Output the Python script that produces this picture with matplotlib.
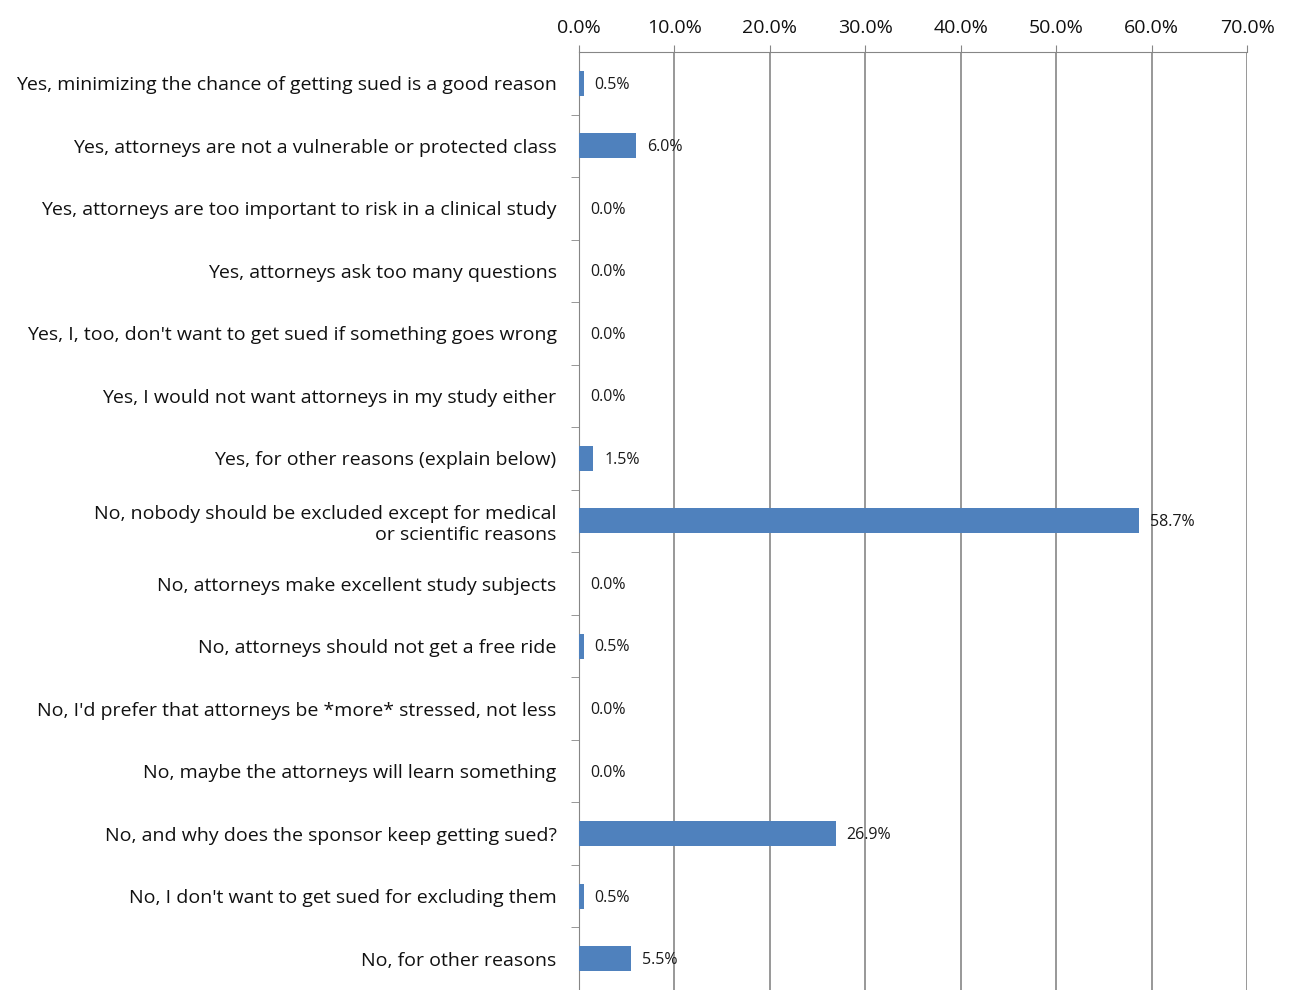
import matplotlib.pyplot as plt
from matplotlib.ticker import FuncFormatter

# survey answers, top to bottom
answers = [
    "Yes, minimizing the chance of getting sued is a good reason",
    "Yes, attorneys are not a vulnerable or protected class",
    "Yes, attorneys are too important to risk in a clinical study",
    "Yes, attorneys ask too many questions",
    "Yes, I, too, don't want to get sued if something goes wrong",
    "Yes, I would not want attorneys in my study either",
    "Yes, for other reasons (explain below)",
    "No, nobody should be excluded except for medical\nor scientific reasons",
    "No, attorneys make excellent study subjects",
    "No, attorneys should not get a free ride",
    "No, I'd prefer that attorneys be *more* stressed, not less",
    "No, maybe the attorneys will learn something",
    "No, and why does the sponsor keep getting sued?",
    "No, I don't want to get sued for excluding them",
    "No, for other reasons",
]
percent = [0.5, 6.0, 0.0, 0.0, 0.0, 0.0, 1.5, 58.7, 0.0, 0.5, 0.0, 0.0, 26.9, 0.5, 5.5]
xticks = [0, 10, 20, 30, 40, 50, 60, 70]

plt.rcParams['font.family'] = ['Open Sans', 'DejaVu Sans']

fig = plt.figure(figsize=(12.89, 9.9), dpi=100)
ax = fig.add_axes([0.449, 0.0, 0.5185, 0.9475])

pos = list(range(len(answers)))
ax.barh(pos, percent, height=0.4, color='#4f81bd', zorder=3)

for y, v in zip(pos, percent):
    ax.annotate(f"{v:.1f}%", (v, y), xytext=(8, -1), textcoords='offset points',
                va='center', ha='left', fontsize=11.5, color='#1a1a1a', zorder=4)

ax.set_ylim(len(answers) - 0.5, -0.5)
ax.set_xlim(0, 70)
ax.set_yticks(pos)
ax.set_yticklabels(answers, fontsize=14, color='#111111', ha='right',
                   multialignment='right', linespacing=1.25)
ax.tick_params(axis='y', length=0, pad=16)
ax.set_yticks([p + 0.5 for p in pos[:-1]], minor=True)
ax.tick_params(axis='y', which='minor', length=6, color='#868686', direction='out')

ax.xaxis.tick_top()
ax.set_xticks(xticks)
ax.xaxis.set_major_formatter(FuncFormatter(lambda x, p: f"{x:.1f}%"))
ax.tick_params(axis='x', labelsize=14, colors='#111111', length=5, color='#868686', pad=6)
ax.grid(axis='x', color='#868686', linewidth=1.2, zorder=0)

for s in ['right', 'bottom']:
    ax.spines[s].set_visible(False)
ax.spines['top'].set_color('#868686')
ax.spines['left'].set_color('#868686')

fig.savefig('out.png', dpi=100)
